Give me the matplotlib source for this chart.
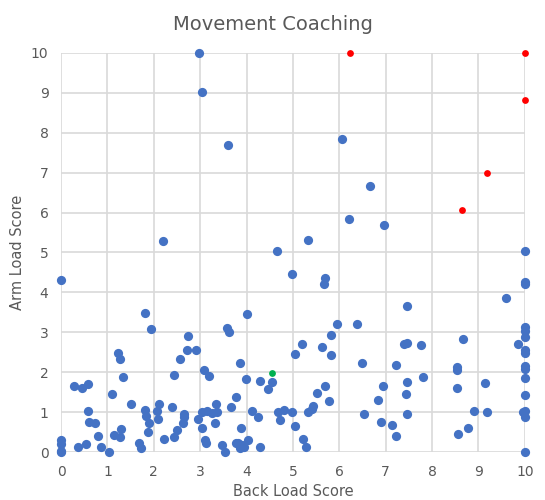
import matplotlib.pyplot as plt

# Puntos azules (mayoría)
blue_x = [0, 0, 0, 0, 0, 0.27, 0.36, 0.45, 0.58, 0.59, 0.61, 0.74, 0.54, 0.80, 0.87,
          1.04, 1.10, 1.14, 1.22, 1.27, 1.33, 1.29, 1.27, 1.50, 1.69, 1.72, 1.81, 1.94,
          1.80, 1.83, 1.89, 1.87, 2.07, 2.08, 2.12, 2.22, 2.40, 2.44, 2.44, 2.51, 2.56,
          2.65, 2.65, 2.63, 2.72, 2.74, 2.92, 2.95, 3.05, 3.03, 3.09, 3.11, 3.13, 3.15,
          3.20, 3.26, 3.33, 3.35, 3.36, 3.48, 3.54, 3.58, 3.62, 3.67, 3.77, 3.78, 3.86,
          3.89, 3.82, 3.85, 3.91, 3.94, 4.03, 4.01, 3.98, 4.11, 4.24, 4.28, 4.29, 4.46,
          4.55, 4.67, 4.72, 4.81, 4.98, 4.98, 4.66, 5.04, 5.05,
          5.70, 5.68, 9.59, 7.45, 5.96, 6.38, 5.82, 5.19, 5.62, 5.82, 6.48, 7.22, 7.40,
          7.46, 7.77, 8.66, 9.85, 8.53, 8.53, 7.81, 7.46, 7.43, 6.95, 6.83, 5.69, 5.51,
          5.77, 5.44, 5.41, 5.32, 5.21, 5.29, 6.54, 6.90, 7.13, 7.22, 7.46, 8.53, 9.15,
          8.91, 9.18, 8.78, 8.56,
          10, 10, 10, 10, 10, 10, 10, 10, 10, 10, 10, 10, 9.95, 10, 10, 10,
          2.97, 3.05, 3.60, 2.20, 6.05, 6.66, 6.21, 6.97, 5.33]
blue_y = [4.31, 0.30, 0.20, 0.0, 0.03, 1.66, 0.13, 1.61, 1.71, 1.03, 0.74, 0.73, 0.21, 0.40, 0.13,
          0.0, 1.45, 0.43, 2.49, 2.33, 1.89, 0.58, 0.37, 1.20, 0.22, 0.10, 3.49, 3.08,
          1.05, 0.91, 0.72, 0.51, 1.03, 0.83, 1.21, 0.33, 1.13, 1.92, 0.38, 0.55, 2.32,
          0.94, 0.87, 0.72, 2.56, 2.91, 2.55, 0.83, 0.60, 1.00, 2.06, 0.30, 0.23, 1.04,
          1.91, 0.97, 0.72, 1.20, 0.99, 0.18, 0.01, 3.10, 3.02, 1.14, 0.22, 1.37, 2.22,
          0.59, 0.22, 0.09, 0.18, 0.13, 0.30, 3.47, 1.83, 1.02, 0.88, 1.79, 0.12, 1.57,
          1.75, 1.00, 0.80, 1.05, 0.99, 4.46, 5.05, 0.64, 2.46,
          4.37, 4.22, 3.85, 3.65, 3.22, 3.22, 2.93, 2.71, 2.63, 2.42, 2.24, 2.18, 2.71,
          2.74, 2.67, 2.82, 2.71, 2.13, 2.06, 1.87, 1.76, 1.46, 1.66, 1.30, 1.66, 1.49,
          1.29, 1.16, 1.07, 1.01, 0.32, 0.13, 0.94, 0.74, 0.67, 0.40, 0.94, 1.61, 1.74,
          1.02, 0.99, 0.59, 0.45,
          5.04, 4.26, 4.21, 3.13, 3.04, 2.87, 2.56, 2.49, 2.16, 2.08, 1.86, 1.42, 1.01, 1.03, 0.87, 0.0,
          10.0, 9.03, 7.70, 5.28, 7.85, 6.67, 5.83, 5.69, 5.31]

# Puntos rojos
red_x = [6.22, 10, 10, 9.18, 8.65]
red_y = [10, 10, 8.82, 6.98, 6.07]

# Punto verde
green_x = [4.55]
green_y = [1.98]

gris = '#595959'

fig = plt.figure(figsize=(5.45, 5.0), dpi=100)
ax = fig.add_axes([0.112, 0.096, 0.851, 0.798])

ax.scatter(blue_x, blue_y, s=44, color='#4472C4', zorder=3, clip_on=False, linewidths=0)
ax.scatter(red_x, red_y, s=24, color='#FF0000', zorder=4, clip_on=False, linewidths=0)
ax.scatter(green_x, green_y, s=24, color='#00B050', zorder=4, clip_on=False, linewidths=0)

ax.set_xlim(0, 10)
ax.set_ylim(0, 10)
ax.set_xticks(range(0, 11))
ax.set_yticks(range(0, 11))
ax.grid(True, color='#D9D9D9', linewidth=1.2)
ax.set_axisbelow(True)
for s in ax.spines.values():
    s.set_visible(False)
ax.tick_params(length=0, labelsize=10, labelcolor=gris, pad=9)

ax.set_xlabel("Back Load Score", fontsize=10.5, color=gris, labelpad=4)
ax.set_ylabel("Arm Load Score", fontsize=10.5, color=gris, labelpad=4)
fig.suptitle("Movement Coaching", fontsize=14, color=gris, y=0.97)

plt.savefig("out.png", dpi=100)
